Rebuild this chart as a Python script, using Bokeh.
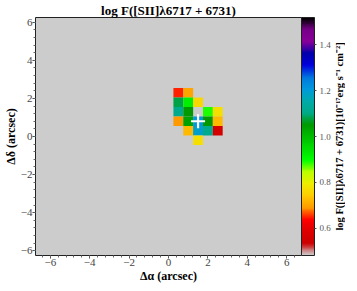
import numpy as np
from bokeh.plotting import figure
from bokeh.layouts import row
from bokeh.models import (LinearColorMapper, ColorBar, FixedTicker,
                          Range1d, ColumnDataSource, BasicTicker, PrintfTickFormatter)
from bokeh.core.properties import value
from bokeh.embed import file_html
from bokeh.resources import INLINE

# ---- data ----
cell_x = [0.5, 1.0,
          0.5, 1.0, 1.5,
          0.5, 1.0, 2.0, 2.5,
          0.5, 1.0, 1.5, 2.0, 2.5,
          1.0, 1.5, 2.0, 2.5,
          1.5]
cell_y = [2.3, 2.3,
          1.8, 1.8, 1.8,
          1.3, 1.3, 1.3, 1.3,
          0.8, 0.8, 0.8, 0.8, 0.8,
          0.3, 0.3, 0.3, 0.3,
          -0.2]
log_flux = [0.65, 0.70,
            1.08, 0.92, 0.76,
            1.11, 1.05, 0.89, 0.77,
            0.69, 1.04, 1.21, 1.05, 0.72,
            0.72, 1.19, 1.11, 0.56,
            0.77]
cross_x = [1.5]
cross_y = [0.8]
cbar_ticks = [0.6, 0.8, 1.0, 1.2, 1.4]
cbar_low, cbar_high = 0.48, 1.52
cbar_title = "log F([SII]λ6717 + 6731)[10⁻¹⁷erg s⁻¹ cm⁻²]"

# ---- nipy_spectral_r palette ----
_r = [0.0, 0.4667, 0.5333, 0.0, 0.0, 0.0, 0.0, 0.0, 0.0, 0.0, 0.0, 0.0, 0.0,
      0.7333, 0.9333, 1.0, 1.0, 1.0, 0.8667, 0.80, 0.80]
_g = [0.0, 0.0, 0.0, 0.0, 0.0, 0.4667, 0.6, 0.6667, 0.6667, 0.6, 0.7333, 0.8667,
      1.0, 1.0, 0.9333, 0.8, 0.6, 0.0, 0.0, 0.0, 0.80]
_b = [0.0, 0.5333, 0.6, 0.6667, 0.8667, 0.8667, 0.8667, 0.6667, 0.5333, 0.0, 0.0,
      0.0, 0.0, 0.0, 0.0, 0.0, 0.0, 0.0, 0.0, 0.0, 0.80]
_pos = np.linspace(0, 1, 21)
_t = np.linspace(0, 1, 256)
palette = []
for tt in _t:
    r = np.interp(tt, _pos, _r); g = np.interp(tt, _pos, _g); b = np.interp(tt, _pos, _b)
    palette.append("#%02x%02x%02x" % (int(round(r * 255)), int(round(g * 255)), int(round(b * 255))))
palette = palette[::-1]

mapper = LinearColorMapper(palette=palette, low=cbar_low, high=cbar_high)

SERIF = "Liberation Serif"

p = figure(frame_width=266, frame_height=238, output_backend="svg", toolbar_location=None,
           x_range=Range1d(-6.75, 6.75), y_range=Range1d(-6.25, 6.25),
           title="log F([SII]λ6717 + 6731)")
p.min_border_left = 0
p.min_border_right = 0
p.min_border_top = 0
p.min_border_bottom = 0
p.background_fill_color = "#cccccc"
p.border_fill_color = "white"
p.outline_line_color = "#222222"
p.grid.visible = False

p.title.align = "center"
p.title.text_font = SERIF
p.title.text_font_size = "13px"
p.title.text_font_style = "bold"
p.title.text_color = "black"
p.title.standoff = 0
p.title.offset = 0

src = ColumnDataSource(dict(x=cell_x, y=cell_y, v=log_flux))
p.rect(x="x", y="y", width=0.5, height=0.5, source=src,
       fill_color={"field": "v", "transform": mapper}, line_color=None)
p.scatter(cross_x, cross_y, marker="cross", size=14, line_color="white", line_width=2.2)

for ax in (p.xaxis[0], p.yaxis[0]):
    ax.ticker = BasicTicker(desired_num_ticks=7, num_minor_ticks=5)
    ax.major_label_text_font = SERIF
    ax.major_label_text_font_size = "11px"
    ax.major_label_text_color = "#444444"
    ax.axis_label_text_font = SERIF
    ax.axis_label_text_font_size = "12px"
    ax.axis_label_text_font_style = "bold"
    ax.axis_label_text_color = "black"
    ax.axis_line_color = None
    ax.major_tick_in = 0
    ax.major_tick_out = 3
    ax.minor_tick_in = 0
    ax.minor_tick_out = 2
    ax.major_tick_line_color = "#444444"
    ax.minor_tick_line_color = "#666666"
    ax.axis_label_standoff = 0
    ax.major_label_standoff = 0

p.xaxis.axis_label = "Δα (arcsec)"
p.yaxis.axis_label = "Δδ (arcsec)"

cb = ColorBar(color_mapper=mapper, width=13, padding=0, margin=2,
              ticker=FixedTicker(ticks=cbar_ticks),
              formatter=PrintfTickFormatter(format="%.1f"),
              major_label_text_font=SERIF, major_label_text_font_size="9px",
              major_label_text_color="#555555",
              major_tick_in=0, major_tick_out=2, major_tick_line_color="#555555",
              bar_line_color="#222222", label_standoff=3)
p.add_layout(cb, "right")

# narrow companion figure carrying the rotated colour-bar title
q = figure(frame_width=12, frame_height=238, output_backend="svg", toolbar_location=None,
           x_range=Range1d(0, 1), y_range=Range1d(0, 1))
q.min_border_left = 0
q.min_border_right = 0
q.min_border_top = 8
q.min_border_bottom = 0
q.axis.visible = False
q.grid.visible = False
q.outline_line_color = None
q.background_fill_color = "white"
q.border_fill_color = "white"
q.text(x=[0.5], y=[0.5], text=[cbar_title], angle=np.pi / 2,
       text_align="center", text_baseline="middle",
       text_font=value(SERIF), text_font_size="10.5px", text_font_style="bold",
       text_color="black")

layout = row(p, q, spacing=0)

open("out.html", "w").write(file_html(layout, INLINE))
